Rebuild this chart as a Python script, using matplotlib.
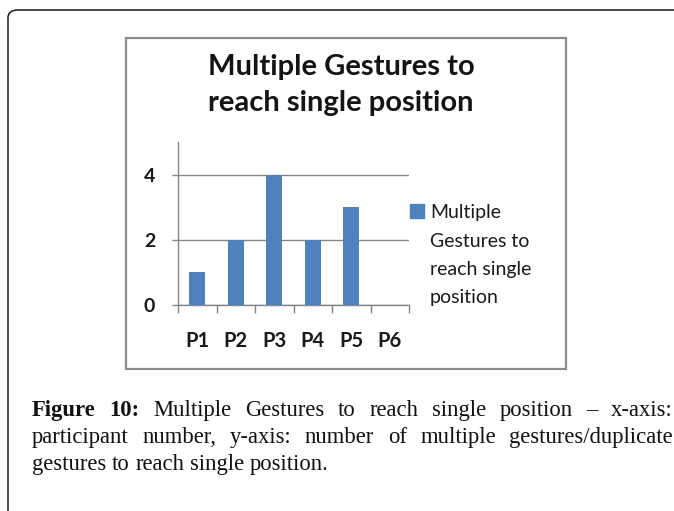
import matplotlib
matplotlib.use("Agg")
import matplotlib.pyplot as plt
from matplotlib.patches import Rectangle, FancyBboxPatch
from matplotlib.ticker import FixedLocator

# ---- data ----
categories = ["P1", "P2", "P3", "P4", "P5", "P6"]
values = [1, 2, 4, 2, 3, 0]
y_ticks = [0, 2, 4]
title_lines = ["Multiple Gestures to", "reach single position"]
series_lines = ["Multiple", "Gestures to", "reach single", "position"]
caption_bold = "Figure 10:"
caption_lines = [
    "Multiple Gestures to reach single position \u2013 x-axis:",
    "participant number, y-axis: number of multiple gestures/duplicate",
    "gestures to reach single position.",
]

W, H = 674, 511
fig = plt.figure(figsize=(W / 100, H / 100), dpi=100)
fig.patch.set_facecolor("white")

def fx(x):
    return x / W

def fy(y):
    return 1 - y / H

BAR = "#4F81BD"
GRID = "#868686"
SANS = "Lato"

# outer rounded frame (extends past right/bottom edges)
frame = FancyBboxPatch((fx(8), fy(560)), fx(760), 550 / H,
                       boxstyle="round,pad=0,rounding_size=0.015",
                       transform=fig.transFigure, fill=False,
                       edgecolor="#1a1a1a", linewidth=1.1, clip_on=False)
fig.patches.append(frame)

# chart box
box = Rectangle((fx(126), fy(369)), fx(566) - fx(126), fy(38) - fy(369),
                transform=fig.transFigure, fill=False,
                edgecolor="#8c8c8c", linewidth=1.6)
fig.patches.append(box)

# axes
ax = fig.add_axes([fx(178), fy(305), fx(409) - fx(178), fy(142) - fy(305)])
x = list(range(len(categories)))
ax.bar(x, values, width=0.42, color=BAR, zorder=3)
ax.set_xlim(-0.5, len(categories) - 0.5)
ax.set_ylim(0, 5)
ax.set_yticks(y_ticks)
ax.set_yticklabels([str(v) for v in y_ticks], fontfamily=SANS,
                   fontweight="bold", fontsize=14, color="#1a1a1a")
ax.set_xticks(x)
ax.set_xticklabels(categories, fontfamily=SANS, fontweight="bold",
                   fontsize=14.5, color="#1a1a1a")
ax.xaxis.set_minor_locator(FixedLocator([i - 0.5 for i in range(len(categories) + 1)]))
ax.tick_params(axis="x", which="major", length=0, pad=19)
ax.tick_params(axis="x", which="minor", length=5.8, width=1, color=GRID, direction="out")
ax.tick_params(axis="y", which="major", length=4.3, width=1, color=GRID, direction="out", pad=12)
ax.grid(axis="y", color=GRID, linewidth=1, zorder=0)
ax.set_axisbelow(True)
for s in ["top", "right"]:
    ax.spines[s].set_visible(False)
for s in ["left", "bottom"]:
    ax.spines[s].set_color(GRID)
    ax.spines[s].set_linewidth(1)

# title
for i, line in enumerate(title_lines):
    fig.text(fx(341), fy(75 + 36 * i), line, ha="center", va="baseline",
             fontfamily=SANS, fontweight="bold", fontsize=21, color="#141414")

# legend
fig.patches.append(Rectangle((fx(410), fy(218)), fx(14), 14 / H,
                             transform=fig.transFigure, color=BAR))
for i, line in enumerate(series_lines):
    fig.text(fx(430), fy(218 + 28.5 * i), line, ha="left", va="baseline",
             fontfamily=SANS, fontsize=14, color="#1a1a1a")

# caption, justified
SERIF = "Liberation Serif"
CAP_FS = 16.3
renderer = fig.canvas.get_renderer()
left, right = 32, 673
baselines = [416, 443, 470]
for li, line in enumerate(caption_lines):
    words = line.split(" ")
    items = []
    if li == 0:
        for bw in caption_bold.split(" "):
            items.append((bw, "bold"))
    items += [(w, "normal") for w in words]
    texts = []
    for w, wt in items:
        t = fig.text(0, fy(baselines[li]), w, ha="left", va="baseline",
                     fontfamily=SERIF, fontweight=wt, fontsize=CAP_FS, color="#111111")
        texts.append(t)
    widths = [t.get_window_extent(renderer).width for t in texts]
    if li < len(caption_lines) - 1:
        gap = (right - left - sum(widths)) / (len(texts) - 1)
    else:
        sp = fig.text(0, 0, "a a", fontfamily=SERIF, fontsize=CAP_FS)
        sa = fig.text(0, 0, "aa", fontfamily=SERIF, fontsize=CAP_FS)
        gap = sp.get_window_extent(renderer).width - sa.get_window_extent(renderer).width
        sp.remove(); sa.remove()
    xpos = left
    for t, wd in zip(texts, widths):
        t.set_x(fx(xpos))
        xpos += wd + gap

fig.savefig("out.png", dpi=100, facecolor="white")
